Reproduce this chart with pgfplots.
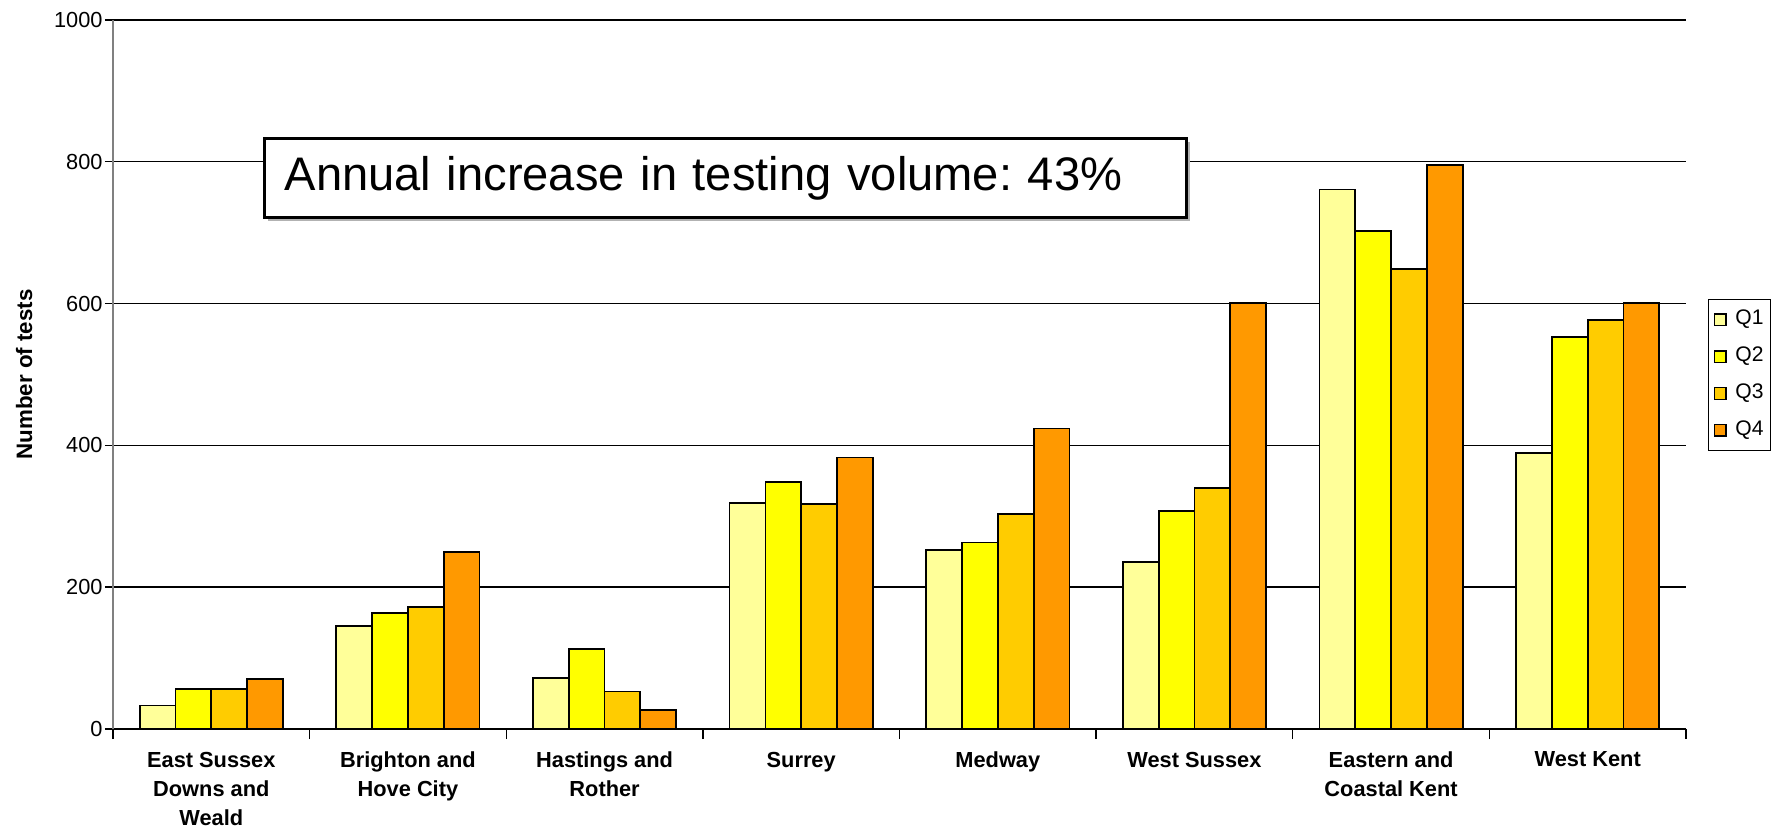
\documentclass[border=0pt]{standalone}
\usepackage{fontspec}
\setmainfont{Liberation Sans}
\usepackage{pgfplots}
\pgfplotsset{compat=1.18}
\usepackage{pgfplotstable}
\usetikzlibrary{shadows}

\definecolor{qone}{HTML}{FFFF99}
\definecolor{qtwo}{HTML}{FFFF00}
\definecolor{qthree}{HTML}{FFCC00}
\definecolor{qfour}{HTML}{FF9900}

% tests per quarter, one row per area
\pgfplotstableread{
x q1  q2  q3  q4
0 33  56  56  70
1 145 164 172 250
2 72  113 53  27
3 319 348 317 383
4 252 263 303 424
5 236 308 340 601
6 761 702 649 796
7 389 553 577 601
}\tests

\begin{document}
\frenchspacing
\begin{tikzpicture}
\begin{axis}[
    scale only axis,
    width=157.3mm, height=70.9mm,
    ybar=0pt, bar width=3.58mm,
    xmin=-0.5, xmax=7.5,
    ymin=0, ymax=1000,
    clip=false,
    axis x line*=bottom,
    axis y line*=left,
    x axis line style={black, line width=0.4pt, -},
    y axis line style={gray, line width=0.7pt, -},
    xtick={0,...,7},
    xticklabels={{East Sussex\\Downs and\\Weald},{Brighton and\\Hove City},{Hastings and\\Rother},Surrey,Medway,West Sussex,{Eastern and\\Coastal Kent},West Kent},
    minor xtick={-0.5,0.5,...,7.5},
    major x tick style={draw=none},
    minor x tick style={black, line width=0.4pt},
    minor tick length=1mm,
    ytick={0,200,...,1000},
    y tick style={black, line width=0.4pt},
    major tick length=0.8mm,
    tick align=outside,
    ymajorgrids,
    major grid style={black, line width=0.4pt},
    /pgf/number format/1000 sep={},
    /pgf/number format/assume math mode=true,
    yticklabel style={font=\fontsize{6.2}{7}\selectfont, xshift=1mm},
    xticklabel style={font=\fontsize{6.2}{8.3}\selectfont\bfseries, align=center, yshift=-0.25mm},
    ylabel={Number of tests},
    ylabel style={font=\fontsize{6.35}{7}\selectfont\bfseries, at={(axis description cs:-0.0565,0.5)}, anchor=center},
    legend style={at={(1.014,0.6065)}, anchor=north west, draw=black, line width=0.4pt,
        font=\fontsize{6}{7}\selectfont, inner xsep=0.5mm, inner ysep=0.8mm,
        row sep=3.6pt, nodes={inner sep=0.6pt}},
    legend cell align=left,
    legend image code/.code={
        \draw[#1, draw=black, line width=0.4pt] (0mm,-0.58mm) rectangle (1.16mm,0.58mm);
        \path (1.8mm,0mm);},
]
\addplot[fill=qone, draw=black, line width=0.5pt] table[x=x, y=q1] {\tests};
\addplot[fill=qtwo, draw=black, line width=0.5pt] table[x=x, y=q2] {\tests};
\addplot[fill=qthree, draw=black, line width=0.5pt] table[x=x, y=q3] {\tests};
\addplot[fill=qfour, draw=black, line width=0.5pt] table[x=x, y=q4] {\tests};
\legend{Q1,Q2,Q3,Q4}

\node[draw=black, line width=0.9pt, fill=white,
      drop shadow={shadow xshift=0.3mm, shadow yshift=-0.3mm, fill=gray!60, opacity=1},
      anchor=north west, inner xsep=2mm, inner ysep=0pt,
      text width=88.2mm, align=left, minimum height=7.9mm,
      text height=0.72em, text depth=0pt,
      font=\fontsize{13.4}{15}\selectfont]
  at (axis cs:0.263,835) {Annual increase in testing volume: 43\%};

\coordinate (plotbl) at (rel axis cs:0,0);
\coordinate (plottr) at (rel axis cs:1,1);
\end{axis}
% page = plot area plus the margins of the original
\pgfresetboundingbox
\path ([shift={(-11.3mm,-10mm)}]plotbl) rectangle ([shift={(8.5mm,2mm)}]plottr);
\end{tikzpicture}
\end{document}
